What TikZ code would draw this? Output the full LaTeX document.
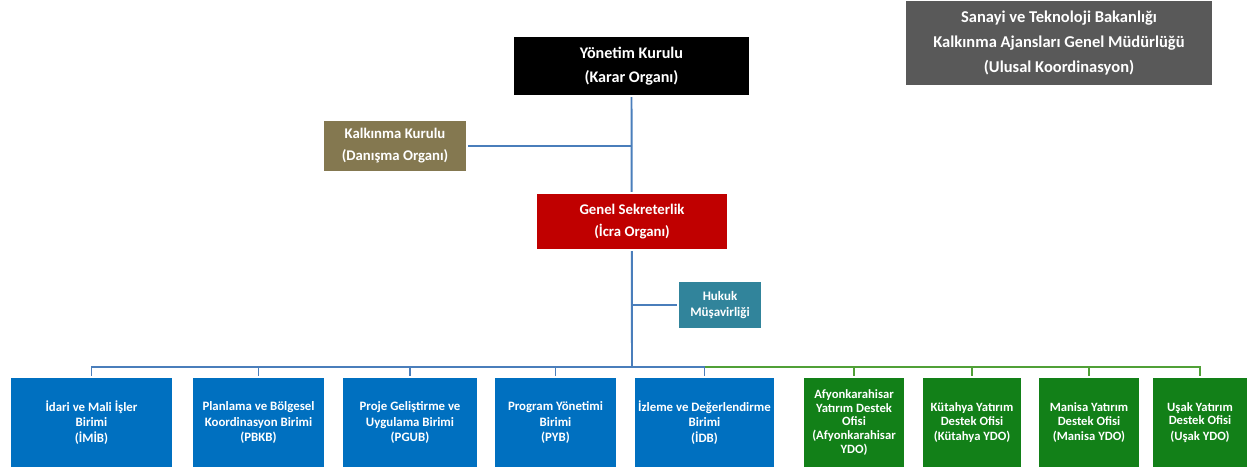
\documentclass[tikz,border=0pt]{standalone}
\usepackage{fontspec}
\setmainfont{Carlito}
\usepackage{xcolor}
\usetikzlibrary{positioning, shadows, backgrounds}

\definecolor{ulusalgray}{RGB}{89,89,89}
\definecolor{kurulolive}{RGB}{132,120,80}
\definecolor{sekred}{RGB}{192,0,0}
\definecolor{hukukteal}{RGB}{49,132,155}
\definecolor{birimblue}{RGB}{0,112,192}
\definecolor{ofisgreen}{RGB}{18,128,24}
\definecolor{linkblue}{RGB}{74,126,187}
\definecolor{linkgreen}{RGB}{80,160,55}

\begin{document}
\begin{tikzpicture}[x=0.02cm, y=-0.02cm,
    box/.style={draw=white, line width=0.8pt, text=white, align=center, inner sep=0pt,
        drop shadow={shadow xshift=0.8pt, shadow yshift=-0.8pt, fill=black, opacity=0.25}},
    bigtext/.style={font=\fontsize{9.2}{14}\selectfont\bfseries},
    bluetext/.style={font=\fontsize{7.3}{9}\selectfont\bfseries},
    greentext/.style={font=\fontsize{7.2}{7.8}\selectfont\bfseries},
    bluelink/.style={draw=linkblue, line width=1.1pt},
    greenlink/.style={draw=linkgreen, line width=1.1pt}]
    \useasboundingbox (0,0) rectangle (1253,475);

    % Upper nodes
    \node[box, fill=ulusalgray, minimum width=6.16cm, minimum height=1.72cm, font=\fontsize{9.4}{14.5}\selectfont\bfseries] (ulusal) at (1059,43)
        {Sanayi ve Teknoloji Bakanlığı\\Kalkınma Ajansları Genel Müdürlüğü\\(Ulusal Koordinasyon)};
    \node[box, bigtext, fill=black, minimum width=4.74cm, minimum height=1.2cm] (yk) at (631.5,66)
        {Yönetim Kurulu\\(Karar Organı)};
    \node[box, fill=kurulolive, minimum width=2.88cm, minimum height=1.04cm, font=\fontsize{8.4}{12.5}\selectfont\bfseries] (kk) at (395,146)
        {Kalkınma Kurulu\\(Danışma Organı)};
    \node[box, fill=sekred, minimum width=3.84cm, minimum height=1.14cm, font=\fontsize{8.4}{13}\selectfont\bfseries] (gs) at (632,221.5)
        {Genel Sekreterlik\\(İcra Organı)};
    \node[box, fill=hukukteal, minimum width=1.68cm, minimum height=0.96cm, font=\fontsize{7.4}{8.6}\selectfont\bfseries] (hm) at (720,305)
        {Hukuk\\Müşavirliği};

    % Units (blue)
    \node[box, bluetext, fill=birimblue, minimum width=3.26cm, minimum height=1.82cm] (imib) at (91.5,422.5)
        {İdari ve Mali İşler\\Birimi\\(İMİB)};
    \node[box, bluetext, fill=birimblue, minimum width=2.66cm, minimum height=1.82cm] (pbkb) at (258.5,422.5)
        {Planlama ve Bölgesel\\Koordinasyon Birimi\\(PBKB)};
    \node[box, bluetext, fill=birimblue, minimum width=2.72cm, minimum height=1.82cm] (pgub) at (410,422.5)
        {Proje Geliştirme ve\\Uygulama Birimi\\(PGUB)};
    \node[box, bluetext, fill=birimblue, minimum width=2.46cm, minimum height=1.82cm] (pyb) at (555.5,422.5)
        {Program Yönetimi\\Birimi\\(PYB)};
    \node[box, bluetext, fill=birimblue, minimum width=2.82cm, minimum height=1.82cm] (idb) at (704.5,422.5)
        {İzleme ve Değerlendirme\\Birimi\\(İDB)};

    % Offices (green)
    \node[box, greentext, fill=ofisgreen, minimum width=2.04cm, minimum height=1.82cm] (afyon) at (854,422.5)
        {Afyonkarahisar\\Yatırım Destek\\Ofisi\\(Afyonkarahisar\\YDO)};
    \node[box, greentext, fill=ofisgreen, minimum width=2.0cm, minimum height=1.82cm] (kutahya) at (972,422.5)
        {Kütahya Yatırım\\Destek Ofisi\\[1pt](Kütahya YDO)};
    \node[box, greentext, fill=ofisgreen, minimum width=2.04cm, minimum height=1.82cm] (manisa) at (1089,422.5)
        {Manisa Yatırım\\Destek Ofisi\\[1pt](Manisa YDO)};
    \node[box, greentext, fill=ofisgreen, minimum width=1.92cm, minimum height=1.82cm] (usak) at (1200,422.5)
        {Uşak Yatırım\\Destek Ofisi\\[1pt](Uşak YDO)};

    \coordinate (bus) at (632,367);

    % Connectors behind the boxes
    \begin{scope}[on background layer]
        \draw[bluelink] (yk.south) -- (bus); % trunk
        \draw[bluelink] (kk.east) -- (kk.east -| yk.south);
        \draw[bluelink] (hm.west) -- (hm.west -| gs.south);
        \draw[bluelink] (imib.north) |- (bus) -| (idb.north);
        \foreach \n in {pbkb, pgub, pyb}
            \draw[bluelink] (\n.north) -- (\n.north |- bus);
        \draw[greenlink] (idb.north |- bus) -| (usak.north);
        \foreach \n in {afyon, kutahya, manisa}
            \draw[greenlink] (\n.north) -- (\n.north |- bus);
    \end{scope}
\end{tikzpicture}
\end{document}
